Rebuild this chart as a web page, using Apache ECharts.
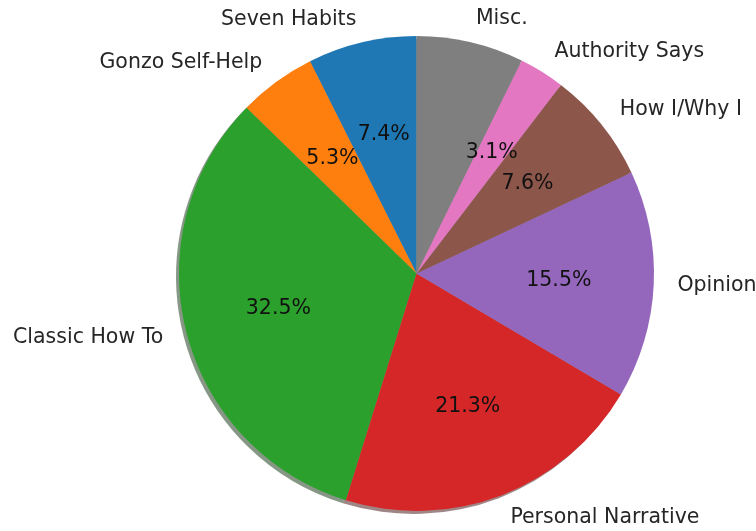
<!DOCTYPE html>
<html>
<head>
<meta charset="utf-8">
<script src="https://cdn.jsdelivr.net/npm/echarts@6/dist/echarts.min.js"></script>
<style>
  html, body { margin: 0; padding: 0; background: #ffffff; }
  #chart { width: 756px; height: 531px; }
</style>
</head>
<body>
<div id="chart"></div>
<script>
// Article types and their share of the total (percent)
const categories = ['Seven Habits', 'Gonzo Self-Help', 'Classic How To', 'Personal Narrative',
                    'Opinion', 'How I/Why I', 'Authority Says', 'Misc.'];
const shares = [7.4, 5.3, 32.5, 21.3, 15.5, 7.6, 3.1, 7.3];
const colors = ['#1f77b4', '#ff7f0e', '#2ca02c', '#d62728', '#9467bd', '#8c564b', '#e377c2', '#7f7f7f'];

// Pie geometry
const CX = 416.5, CY = 273.5, R = 237.5;
const SHADOW_SHIFT = 3;
const FONT = 'DejaVu Sans';
const FONT_SIZE = 20.5;

// Drop shadow: each wedge darkened to 30% and half transparent
function shadowOf(hex) {
  const n = parseInt(hex.slice(1), 16);
  const r = (n >> 16) & 255, g = (n >> 8) & 255, b = n & 255;
  return `rgba(${Math.round(r * 0.3)},${Math.round(g * 0.3)},${Math.round(b * 0.3)},0.5)`;
}

const base = {
  type: 'pie',
  clockwise: false,
  startAngle: 90,
  avoidLabelOverlap: false,
  silent: true,
  animation: false,
  emphasis: { disabled: true },
  labelLine: { show: false }
};

const chart = echarts.init(document.getElementById('chart'), null, { renderer: 'canvas' });
chart.setOption({
  backgroundColor: '#ffffff',
  animation: false,
  series: [
    // shadow, offset left and down
    Object.assign({}, base, {
      center: [CX - SHADOW_SHIFT, CY + SHADOW_SHIFT],
      radius: R,
      label: { show: false },
      data: categories.map((name, i) => ({
        name, value: shares[i], itemStyle: { color: shadowOf(colors[i]) }
      }))
    }),
    // wedges with category names just outside the rim
    Object.assign({}, base, {
      center: [CX, CY],
      radius: R,
      label: {
        show: true,
        position: 'outside',
        formatter: '{b}',
        fontFamily: FONT,
        fontSize: FONT_SIZE,
        color: '#262626',
        distanceToLabelLine: 0
      },
      labelLine: { show: false, length: 0.1 * R, length2: 0 },
      data: categories.map((name, i) => ({
        name, value: shares[i], itemStyle: { color: colors[i] }
      }))
    }),
    // percentage labels at 60% of the radius
    Object.assign({}, base, {
      center: [CX, CY],
      radius: [0.2 * R - 6, R],
      label: {
        show: true,
        position: 'inside',
        formatter: p => p.value.toFixed(1) + '%',
        fontFamily: FONT,
        fontSize: FONT_SIZE,
        color: '#111111'
      },
      itemStyle: { color: 'rgba(0,0,0,0)' },
      data: categories.map((name, i) => ({ name, value: shares[i] }))
    })
  ]
});
</script>
</body>
</html>
